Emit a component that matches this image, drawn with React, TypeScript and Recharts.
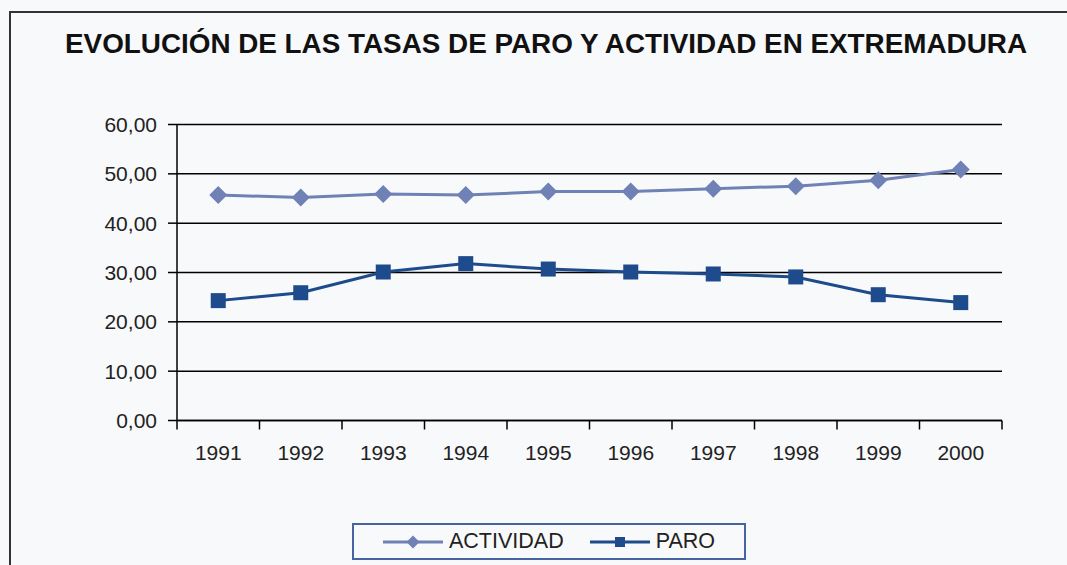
import { CartesianGrid, LineChart, Line, XAxis, YAxis } from "recharts";

const years = ["1991", "1992", "1993", "1994", "1995", "1996", "1997", "1998", "1999", "2000"];
const actividad = [45.7, 45.2, 45.9, 45.7, 46.4, 46.4, 47.0, 47.5, 48.7, 50.9];
const paro = [24.3, 25.9, 30.1, 31.8, 30.7, 30.1, 29.7, 29.1, 25.5, 23.9];
const yTicks = [0, 10, 20, 30, 40, 50, 60];

const ACT_COLOR = "#6f81b5";
const PARO_COLOR = "#1d4b8b";
const FONT = "'Liberation Sans', Arial, sans-serif";

const data = years.map((year, i) => ({ x: i + 1, year, actividad: actividad[i], paro: paro[i] }));
// category slots run from 0.5 to 10.5; integer ticks carry the year, half ticks the tick marks
const xTicks = Array.from({ length: years.length * 2 + 1 }, (_, i) => 0.5 + i * 0.5);

const fmt = (v: number) => v.toFixed(2).replace(".", ",");

function Diamond({ cx, cy, r = 9, fill }: any) {
  if (cx == null || cy == null) return null;
  return <polygon points={`${cx},${cy - r} ${cx + r},${cy} ${cx},${cy + r} ${cx - r},${cy}`} fill={fill} />;
}

function Square({ cx, cy, s = 15, fill }: any) {
  if (cx == null || cy == null) return null;
  return <rect x={cx - s / 2} y={cy - s / 2} width={s} height={s} fill={fill} />;
}

function XTick({ x, y, payload }: any) {
  const v = payload.value as number;
  if (Number.isInteger(v)) {
    return (
      <text x={x} y={y} dy="0.71em" textAnchor="middle" fontSize={21} fontFamily={FONT} fill="#222">
        {years[v - 1]}
      </text>
    );
  }
  return <line x1={x} x2={x} y1={y - 25} y2={y - 16} stroke="#000" strokeWidth={1.5} />;
}

function LegendItem({ label, color, square }: { label: string; color: string; square?: boolean }) {
  return (
    <div style={{ display: "flex", alignItems: "center", gap: 6 }}>
      <svg width={60} height={14}>
        <line x1={0} x2={60} y1={7} y2={7} stroke={color} strokeWidth={3} />
        {square ? <Square cx={30} cy={7} s={10} fill={color} /> : <Diamond cx={30} cy={7} r={6.5} fill={color} />}
      </svg>
      <span>{label}</span>
    </div>
  );
}

export default function App() {
  return (
    <div style={{ position: "absolute", left: 0, top: 0, width: 1067, height: 565, background: "#f8f9fb", overflow: "hidden", fontFamily: FONT }}>
      <div style={{ position: "absolute", left: 9, top: 11, width: 1100, height: 600, borderLeft: "2px solid #333", borderTop: "2px solid #333" }} />
      <svg style={{ position: "absolute", left: 0, top: 0 }} width={1067} height={70}>
        <text x={546} y={53} textAnchor="middle" fontSize={27.5} fontWeight="bold" fontFamily={FONT} fill="#111" textLength={962} lengthAdjust="spacingAndGlyphs">
          EVOLUCIÓN DE LAS TASAS DE PARO Y ACTIVIDAD EN EXTREMADURA
        </text>
      </svg>
      <div style={{ position: "absolute", left: 0, top: 0 }}>
        <LineChart width={1067} height={500} data={data} margin={{ top: 124.5, right: 65, bottom: 19.5, left: 0 }}>
          <CartesianGrid vertical={false} stroke="#000" strokeWidth={1.5} />
          <XAxis
            dataKey="x"
            type="number"
            domain={[0.5, 10.5]}
            ticks={xTicks}
            interval={0}
            height={60}
            tickLine={false}
            tickSize={9}
            tickMargin={16}
            tick={<XTick />}
            axisLine={{ stroke: "#000", strokeWidth: 1.5 }}
          />
          <YAxis
            domain={[0, 60]}
            ticks={yTicks}
            width={177}
            tickSize={9}
            tickMargin={11}
            tickFormatter={fmt}
            tick={{ fontSize: 21, fill: "#222", fontFamily: FONT }}
            tickLine={{ stroke: "#000", strokeWidth: 1.5 }}
            axisLine={{ stroke: "#000", strokeWidth: 1.5 }}
          />
          <Line dataKey="actividad" name="ACTIVIDAD" stroke={ACT_COLOR} strokeWidth={3} isAnimationActive={false}
            dot={(p: any) => <Diamond key={`a${p.index}`} cx={p.cx} cy={p.cy} fill={ACT_COLOR} />} activeDot={false} />
          <Line dataKey="paro" name="PARO" stroke={PARO_COLOR} strokeWidth={3} isAnimationActive={false}
            dot={(p: any) => <Square key={`p${p.index}`} cx={p.cx} cy={p.cy} fill={PARO_COLOR} />} activeDot={false} />
        </LineChart>
      </div>
      <div style={{ position: "absolute", left: 352, top: 523, width: 394, height: 37, boxSizing: "border-box", border: "2px solid #4664a2", display: "flex", alignItems: "center", justifyContent: "center", gap: 26, fontSize: 21.5, color: "#222" }}>
        <LegendItem label="ACTIVIDAD" color={ACT_COLOR} />
        <LegendItem label="PARO" color={PARO_COLOR} square />
      </div>
    </div>
  );
}
